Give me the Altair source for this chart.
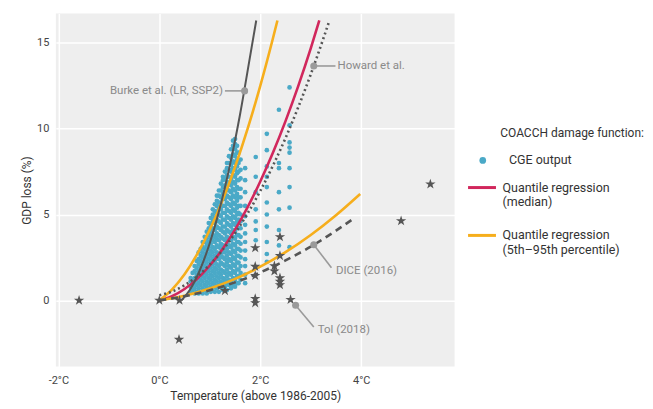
import altair as alt
import pandas as pd

TEAL = "#4aa9c7"
CRIMSON = "#d1275c"
YELLOW = "#f6ae1c"
DARK = "#555555"
ANNO = "#9a9a9a"
FONT = "Roboto"

SER_CGE = "CGE output"
SER_MED = "Quantile regression|(median)"
SER_Q = "Quantile regression|(5th–95th percentile)"

# ---- CGE output (columns of simulated points) ----
cge_T = [0.62, 0.66, 0.70, 0.74, 0.78, 0.82, 0.86, 0.90, 0.94, 0.98, 1.02, 1.06, 1.10, 1.14,
         1.18, 1.22, 1.26, 1.30, 1.34, 1.38, 1.42, 1.46, 1.50, 1.54, 1.57, 1.61,
         1.70, 1.91, 2.13, 2.37, 2.58]
cge_Y = [
    [0.5, 0.8, 1.1, 1.3],
    [0.6, 0.9, 1.2, 1.6],
    [0.4, 0.7, 1.0, 1.3, 1.7, 2.0],
    [0.5, 0.9, 1.2, 1.5, 1.9, 2.3],
    [0.4, 0.7, 1.0, 1.4, 1.7, 2.1, 2.4, 2.8],
    [0.5, 0.9, 1.2, 1.6, 1.9, 2.3, 2.6, 3.0],
    [0.4, 0.7, 1.1, 1.4, 1.8, 2.1, 2.5, 2.8, 3.1, 3.4],
    [0.6, 0.9, 1.3, 1.6, 2.0, 2.3, 2.7, 3.0, 3.4, 3.7],
    [0.4, 0.8, 1.1, 1.5, 1.8, 2.2, 2.5, 2.9, 3.2, 3.6, 4.0],
    [0.6, 1.0, 1.3, 1.7, 2.0, 2.4, 2.7, 3.1, 3.4, 3.8, 4.2, 4.5],
    [0.5, 0.8, 1.2, 1.5, 1.9, 2.2, 2.6, 2.9, 3.3, 3.6, 4.0, 4.4, 4.8],
    [0.7, 1.0, 1.4, 1.7, 2.1, 2.4, 2.8, 3.1, 3.5, 3.8, 4.2, 4.6, 5.0, 5.3],
    [0.5, 0.9, 1.2, 1.6, 1.9, 2.3, 2.6, 3.0, 3.4, 3.7, 4.1, 4.5, 4.8, 5.2, 5.6],
    [0.7, 1.1, 1.4, 1.8, 2.1, 2.5, 2.8, 3.2, 3.6, 3.9, 4.3, 4.7, 5.1, 5.5, 5.8, 6.1],
    [0.5, 0.9, 1.3, 1.6, 2.0, 2.4, 2.7, 3.1, 3.5, 3.8, 4.2, 4.6, 5.0, 5.3, 5.7, 6.1, 6.4],
    [0.8, 1.1, 1.5, 1.8, 2.2, 2.6, 3.0, 3.3, 3.7, 4.1, 4.5, 4.9, 5.3, 5.7, 6.0, 6.4, 6.8],
    [0.6, 1.0, 1.3, 1.7, 2.1, 2.5, 2.8, 3.2, 3.6, 4.0, 4.3, 4.7, 5.1, 5.5, 5.9, 6.2, 6.6, 7.0, 7.2],
    [0.8, 1.2, 1.6, 2.0, 2.4, 2.8, 3.1, 3.5, 3.9, 4.3, 4.7, 5.1, 5.5, 5.9, 6.3, 6.7, 7.1, 7.5],
    [0.6, 1.0, 1.4, 1.8, 2.2, 2.6, 3.0, 3.3, 3.7, 4.1, 4.5, 4.9, 5.3, 5.7, 6.1, 6.5, 6.9, 7.3, 7.7, 8.0],
    [0.9, 1.2, 1.6, 2.0, 2.4, 2.8, 3.2, 3.6, 4.0, 4.4, 4.8, 5.2, 5.6, 6.0, 6.4, 6.8, 7.2, 7.6, 8.0, 8.4],
    [0.7, 1.1, 1.5, 1.9, 2.3, 2.7, 3.1, 3.5, 3.9, 4.3, 4.7, 5.1, 5.5, 5.9, 6.3, 6.7, 7.1, 7.5, 7.9, 8.3, 8.8],
    [0.9, 1.3, 1.7, 2.1, 2.5, 2.9, 3.3, 3.7, 4.1, 4.5, 4.9, 5.3, 5.7, 6.1, 6.5, 6.9, 7.3, 7.7, 8.1, 8.5, 9.0, 9.3],
    [0.8, 1.2, 1.6, 2.0, 2.4, 2.8, 3.2, 3.6, 4.0, 4.4, 4.8, 5.2, 5.6, 6.0, 6.4, 6.8, 7.2, 7.6, 8.0, 8.4, 8.8, 9.1, 9.4],
    [1.0, 1.4, 1.8, 2.2, 2.6, 3.0, 3.4, 3.8, 4.2, 4.6, 5.0, 5.4, 5.8, 6.2, 6.6, 7.0, 7.4, 7.8, 8.2, 8.6, 9.0],
    [1.0, 1.4, 1.8, 2.2, 2.6, 3.0, 3.4, 3.8, 4.2, 4.7, 5.1, 5.5, 6.0, 6.5, 7.0, 7.5, 8.0, 8.6],
    [1.2, 1.6, 2.0, 2.5, 2.9, 3.3, 3.7, 4.2, 4.6, 5.0, 5.5, 6.0, 6.5, 7.1, 7.6, 8.2],
    [1.0, 1.5, 2.0, 2.4, 2.9, 3.4, 3.9, 4.4, 4.9, 5.5, 6.3, 7.0, 7.7],
    [3.5, 4.1, 4.6, 5.3, 6.3, 7.2, 8.35],
    [2.25, 2.7, 3.4, 4.3, 5.0, 5.7, 6.6, 7.2, 7.8, 8.75, 9.7],
    [3.2, 4.1, 5.3, 6.3, 7.7, 8.0, 11.1],
    [3.1, 5.4, 6.6, 7.7, 8.6, 8.9, 9.2, 10.2, 12.4],
]

# ---- curves ----
median_T = [0.0, 0.25, 0.5, 0.75, 1.0, 1.25, 1.5, 1.75, 2.0, 2.25, 2.5, 2.75, 3.0, 3.17]
median_Y = [0.0, 0.24, 0.66, 1.25, 2.03, 2.98, 4.12, 5.43, 6.92, 8.59, 10.44, 12.46, 14.67, 16.3]

upper_T = [0.0, 0.25, 0.5, 0.75, 1.0, 1.25, 1.5, 1.75, 2.0, 2.25, 2.34]
upper_Y = [0.0, 0.63, 1.52, 2.69, 4.11, 5.81, 7.77, 10.0, 12.49, 15.25, 16.3]

lower_T = [0.0, 0.5, 1.0, 1.5, 2.0, 2.5, 3.0, 3.5, 3.98]
lower_Y = [0.0, 0.27, 0.69, 1.25, 1.96, 2.81, 3.81, 4.96, 6.2]

burke_T = [0.44, 0.6, 0.8, 1.0, 1.2, 1.4, 1.6, 1.8, 1.92]
burke_Y = [0.0, 0.59, 1.74, 3.34, 5.39, 7.89, 10.84, 14.24, 16.3]

howard_T = [0.0, 0.25, 0.5, 0.75, 1.0, 1.25, 1.5, 1.75, 2.0, 2.25, 2.5, 2.75, 3.0, 3.25, 3.37]
howard_Y = [0.3, 0.51, 0.88, 1.40, 2.08, 2.92, 3.91, 5.07, 6.37, 7.84, 9.45, 11.23, 13.16, 15.25, 16.3]

dice_T = [0.0, 0.5, 1.0, 1.5, 2.0, 2.5, 3.0, 3.5, 3.84]
dice_Y = [0.0, 0.24, 0.59, 1.05, 1.63, 2.33, 3.13, 4.06, 4.75]

# ---- other studies (stars) ----
star_T = [-1.59, 0.0, 0.40, 0.39, 1.30, 1.90, 1.90, 1.90, 1.90, 1.90, 2.28, 2.28,
          2.39, 2.39, 2.39, 2.39, 2.39, 2.60, 4.79, 5.37]
star_Y = [0.0, 0.0, 0.0, -2.28, 0.56, 3.06, 1.97, 1.44, 0.10, -0.15, 2.0, 1.7,
          3.7, 2.6, 1.3, 1.1, 0.9, 0.04, 4.63, 6.77]

# ---- annotations ----
ann_label = ["Burke et al. (LR, SSP2)", "Howard et al.", "DICE (2016)", "Tol (2018)"]
ann_dotT = [1.69, 3.06, 3.06, 2.70]
ann_dotY = [12.2, 13.65, 3.24, -0.28]
ann_endT = [1.30, 3.49, 3.41, 3.06]
ann_endY = [12.2, 13.65, 1.9, -1.55]
ann_txtT = [1.26, 3.53, 3.50, 3.14]
ann_txtY = [12.2, 13.65, 1.72, -1.72]
ann_align = ["right", "left", "left", "left"]

# ---- build tables ----
cge_rows = []
for t, ys in zip(cge_T, cge_Y):
    for v in ys:
        cge_rows.append({"T": t, "y": v, "series": SER_CGE})
cge_df = pd.DataFrame(cge_rows)

med_df = pd.DataFrame({"T": median_T, "y": median_Y, "series": SER_MED, "branch": "median"})
q_df = pd.concat([
    pd.DataFrame({"T": upper_T, "y": upper_Y, "series": SER_Q, "branch": "upper"}),
    pd.DataFrame({"T": lower_T, "y": lower_Y, "series": SER_Q, "branch": "lower"}),
])
qr_df = pd.concat([med_df, q_df])
burke_df = pd.DataFrame({"T": burke_T, "y": burke_Y})
howard_df = pd.DataFrame({"T": howard_T, "y": howard_Y})
dice_df = pd.DataFrame({"T": dice_T, "y": dice_Y})
star_df = pd.DataFrame({"T": star_T, "y": star_Y})
ann_df = pd.DataFrame({"label": ann_label, "T": ann_dotT, "y": ann_dotY,
                       "T2": ann_endT, "y2": ann_endY, "tx": ann_txtT, "ty": ann_txtY,
                       "align": ann_align})

xs = alt.Scale(domain=[-2.05, 5.85], nice=False, zero=False)
ys_ = alt.Scale(domain=[-3.85, 16.7], nice=False, zero=False)

X = alt.X("T:Q", scale=xs, axis=alt.Axis(
    values=[-2, 0, 2, 4], labelExpr="datum.value + '°C'",
    title="Temperature (above 1986-2005)", labelPadding=8, titlePadding=5))
Y = alt.Y("y:Q", scale=ys_, axis=alt.Axis(
    values=[0, 5, 10, 15], title="GDP loss (%)", labelPadding=7, titlePadding=3))

# zero-width space keeps the leading no-break spaces from being trimmed
LEG_TITLE = "\u200b" + "\u00a0" * 8 + "COACCH damage function:"
LEG_PTS = alt.Legend(
    title=LEG_TITLE,
    orient="none", legendX=422, legendY=115,
    symbolType="circle", symbolSize=45, symbolStrokeWidth=0, symbolOpacity=1,
    labelFont=FONT, labelFontSize=12.5, labelColor="#333333", labelOffset=20,
    titleFont=FONT, titleFontSize=12, titleFontWeight="normal", titleColor="#333333",
    titlePadding=14, titleLimit=400, padding=0,
)
LEG_LINES = alt.Legend(
    title=None,
    orient="none", legendX=412, legendY=159,
    symbolType="stroke", symbolSize=784, symbolStrokeWidth=3,
    labelExpr="split(datum.label, '|')",
    labelFont=FONT, labelFontSize=12.5, labelColor="#333333", labelOffset=5,
    rowPadding=11, padding=0, labelLimit=300,
)

pts = alt.Chart(cge_df).mark_circle(size=22, opacity=1).encode(
    x=X, y=Y,
    fill=alt.Fill("series:N", scale=alt.Scale(domain=[SER_CGE], range=[TEAL]), legend=LEG_PTS))
qr = alt.Chart(qr_df).mark_line(strokeWidth=2.6, interpolate="monotone").encode(
    x=X, y=Y,
    stroke=alt.Stroke("series:N", scale=alt.Scale(domain=[SER_MED, SER_Q], range=[CRIMSON, YELLOW]),
                      legend=LEG_LINES),
    detail="branch:N", order="T:Q")
burke = alt.Chart(burke_df).mark_line(color=DARK, strokeWidth=2, interpolate="monotone").encode(x=X, y=Y)
howard = alt.Chart(howard_df).mark_line(color=DARK, strokeWidth=2.6, strokeDash=[2, 3],
                                        interpolate="monotone").encode(x=X, y=Y)
dice = alt.Chart(dice_df).mark_line(color=DARK, strokeWidth=2.6, strokeDash=[7, 5],
                                    interpolate="monotone").encode(x=X, y=Y)
stars = alt.Chart(star_df).mark_point(
    shape="M0,-1L0.2245,-0.309L0.951,-0.309L0.363,0.118L0.588,0.809L0,0.382L-0.588,0.809L-0.363,0.118L-0.951,-0.309L-0.2245,-0.309Z",
    filled=True, color=DARK, size=120, opacity=1).encode(x=X, y=Y)

leaders = alt.Chart(ann_df).mark_rule(color=ANNO, strokeWidth=1.6).encode(
    x=X, y=Y, x2="T2:Q", y2="y2:Q")
dots = alt.Chart(ann_df).mark_circle(color=ANNO, size=50, opacity=1).encode(x=X, y=Y)
txt_r = alt.Chart(ann_df[ann_df["align"] == "right"]).mark_text(
    align="right", baseline="middle", font=FONT, fontSize=11.5, color="#8a8a8a").encode(
    x=alt.X("tx:Q", scale=xs), y=alt.Y("ty:Q", scale=ys_), text="label:N")
txt_l = alt.Chart(ann_df[ann_df["align"] == "left"]).mark_text(
    align="left", baseline="middle", font=FONT, fontSize=11.5, color="#8a8a8a").encode(
    x=alt.X("tx:Q", scale=xs), y=alt.Y("ty:Q", scale=ys_), text="label:N")

chart = alt.layer(pts, qr, burke, howard, dice, stars, leaders, dots, txt_r, txt_l).properties(
    width=400, height=354,
    padding={"left": 12, "top": 5, "right": 0, "bottom": 3},
).resolve_scale(fill="independent", stroke="independent").configure_view(
    fill="#eeeeee", stroke=None).configure_axis(
    grid=True, gridColor="#ffffff", gridWidth=1.5, domain=False, ticks=False,
    labelFont=FONT, labelFontSize=11, labelColor="#444444",
    titleFont=FONT, titleFontSize=12, titleFontWeight="normal", titleColor="#333333",
)

chart.save("out.html", embed_options={"renderer": "svg", "actions": False})
